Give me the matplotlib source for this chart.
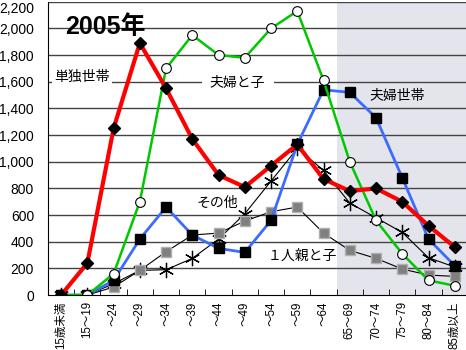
import matplotlib
matplotlib.use("Agg")
import matplotlib.pyplot as plt
import matplotlib.transforms as mtransforms
import numpy as np

categories = ["15歳未満", "15～19", "～24", "～29", "～34", "～39", "～44", "～49",
              "～54", "～59", "～64", "65～69", "70～74", "75～79", "80～84", "85歳以上"]
single = [0, 240, 1250, 1890, 1550, 1170, 900, 810, 970, 1130, 870, 780, 800, 700, 520, 360]
couple_child = [0, 0, 160, 700, 1700, 1950, 1800, 1780, 2000, 2130, 1610, 1000, 560, 310, 110, 70]
couple = [0, 0, 110, 420, 660, 450, 350, 320, 560, 1130, 1540, 1520, 1330, 880, 420, 220]
single_parent = [0, 0, 60, 185, 325, 450, 465, 555, 625, 660, 465, 335, 275, 195, 150, 140]
other = [0, 0, 85, 185, 190, 275, 420, 610, 855, 1100, 935, 690, 580, 470, 280, 210]
yticks = list(range(0, 2201, 200))

cjk = ['Liberation Sans', 'Noto Sans CJK JP', 'DejaVu Sans']
plt.rcParams['font.family'] = cjk

fig = plt.figure(figsize=(4.66, 3.5), dpi=100)
ax = fig.add_axes([0.103, 0.157, 0.901, 0.838])
x = np.arange(len(categories))

ax.axvspan(10.5, 15.5, ymin=0, ymax=1, facecolor='#e4e4ec', edgecolor='none', zorder=0)
for yv in yticks[1:]:
    ax.axhline(yv, color='#444444', lw=1.0, zorder=1)

ast = (6, 2, 0)
ax.plot(x, other, color='black', lw=0.8, marker=ast, ms=11, mec='black', mew=0.9, zorder=3)
ax.plot(x, single_parent, color='black', lw=0.8, marker='s', ms=6.5, mfc='#808080', mec='#b0b0b0', mew=1.0, zorder=3)
ax.plot(x, couple, color='#3b6cff', lw=2.0, marker='s', ms=7, mfc='black', mec='black', zorder=4)
ax.plot(x, couple_child, color='#00c800', lw=1.8, marker='o', ms=7, mfc='white', mec='black', mew=0.8, zorder=5)
ax.plot(x, single, color='#ff0000', lw=3.0, marker='D', ms=6.5, mfc='black', mec='black', zorder=6)

ax.set_xlim(-0.5, 15.5)
ax.set_ylim(0, 2200)
ax.set_yticks(yticks)
ax.set_yticklabels([f"{v:,}" for v in yticks], fontsize=10, family=cjk)
offset = mtransforms.ScaledTranslation(0, -5 / 100, fig.dpi_scale_trans)
ylabels = ax.get_yticklabels()
for lbl in ylabels[:-1]:
    lbl.set_transform(lbl.get_transform() + offset)
top_off = mtransforms.ScaledTranslation(0, -1 / 100, fig.dpi_scale_trans)
ylabels[-1].set_transform(ylabels[-1].get_transform() + top_off)
ylabels[-1].set_verticalalignment('top')
ax.set_xticks(x)
ax.set_xticklabels(categories, rotation=90, fontsize=8.3, family=cjk, va='top')
ax.set_xticks(np.arange(-0.5, 15.6, 1), minor=True)
ax.tick_params(axis='x', which='major', length=0, pad=4.5)
ax.tick_params(axis='x', which='minor', length=4, direction='in', color='black')
ax.tick_params(axis='y', length=0, pad=10)

for s in ['top', 'right']:
    ax.spines[s].set_visible(False)
ax.spines['left'].set_color('black')
ax.spines['bottom'].set_color('black')
ax.spines['left'].set_zorder(7)
ax.spines['bottom'].set_zorder(7)

ax.text(0.15, 2010, "2005年", fontsize=18, fontweight='bold', family=cjk, va='center', ha='left', zorder=8)
box = dict(facecolor='white', edgecolor='none', pad=1.5)
ax.text(-0.25, 1634, "単独世帯", fontsize=10, va='center', ha='left', bbox=box, zorder=8)
ax.text(5.67, 1590, "夫婦と子", fontsize=10, va='center', ha='left', bbox=dict(facecolor='white', edgecolor='none', pad=6), zorder=8)
ax.text(11.76, 1494, "夫婦世帯", fontsize=10, va='center', ha='left', zorder=8)
ax.text(5.18, 693, "その他", fontsize=10, va='center', ha='left', zorder=8)
ax.text(7.88, 297, "１人親と子", fontsize=10, va='center', ha='left', zorder=8)

fig.savefig("out.png", dpi=100)
